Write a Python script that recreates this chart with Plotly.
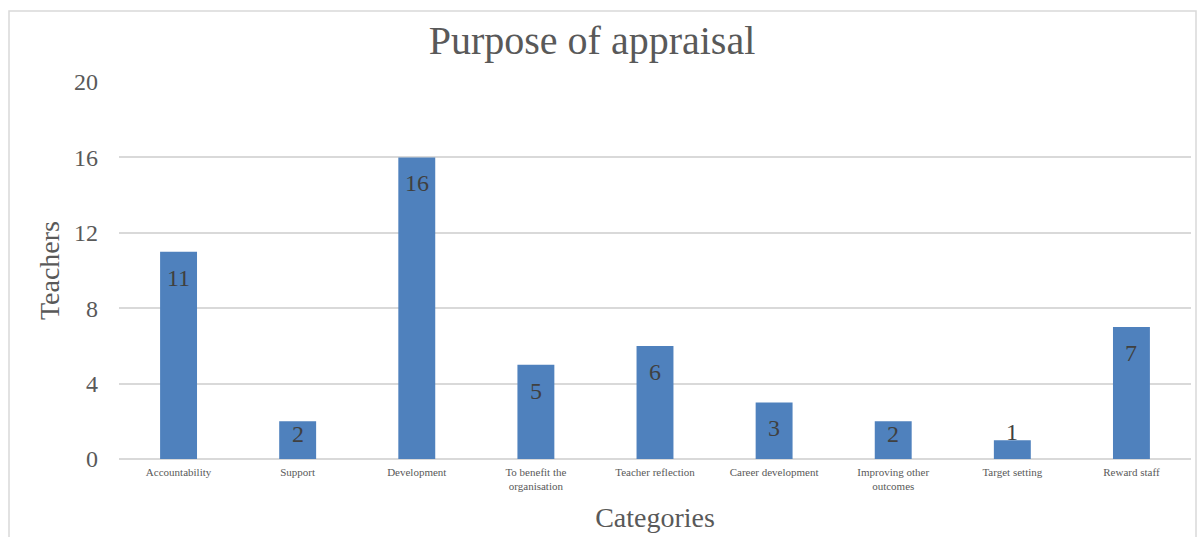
import plotly.graph_objects as go

categories = ["Accountability", "Support", "Development", "To benefit the<br>organisation",
              "Teacher reflection", "Career development", "Improving other<br>outcomes",
              "Target setting", "Reward staff"]
teachers = [11, 2, 16, 5, 6, 3, 2, 1, 7]
y_ticks = [0, 4, 8, 12, 16, 20]

FONT = "Liberation Serif"
L, R, T, B = 119, 7, 82, 78
W, H = 1198, 537
pw, ph = W - L - R, H - T - B
YMAX = 20

fig = go.Figure(go.Bar(
    x=categories, y=teachers,
    marker=dict(color="#4F81BD", line=dict(width=0)),
    hoverinfo="skip",
))


def label_shift(v):
    # Excel-style "inside end" label: move up when the bar is too short to hold it
    bar_px = v * ph / YMAX
    if bar_px >= 52:
        return -26
    if bar_px >= 30:
        return -13
    return 8


annotations = [
    dict(x=c, y=v, xref="x", yref="y", text=str(v), showarrow=False,
         yshift=label_shift(v), yanchor="middle",
         font=dict(family=FONT, size=24, color="#404040"))
    for c, v in zip(categories, teachers)
]

fig.update_layout(
    width=W, height=H,
    margin=dict(l=L, r=R, t=T, b=B),
    paper_bgcolor="white", plot_bgcolor="white",
    bargap=0.69,
    showlegend=False,
    title=dict(text="Purpose of appraisal", x=(592 - L) / pw, xanchor="center", y=1 - 40 / H,
               yanchor="middle", xref="paper",
               font=dict(family=FONT, size=40, color="#595959")),
    xaxis=dict(
        tickfont=dict(family=FONT, size=11, color="#595959"),
        title=dict(text="Categories", font=dict(family=FONT, size=28, color="#595959"), standoff=16),
        showline=False, ticks="", showgrid=False, ticklabelstandoff=5,
    ),
    yaxis=dict(
        range=[0, YMAX], tickvals=y_ticks,
        tickfont=dict(family=FONT, size=24, color="#595959"),
        title=dict(text="Teachers", font=dict(family=FONT, size=28, color="#595959"), standoff=6),
        showgrid=True, gridcolor="#D9D9D9", gridwidth=1.5,
        zeroline=True, zerolinecolor="#D9D9D9", zerolinewidth=2,
        showline=False, ticks="", ticklabelstandoff=20,
    ),
    annotations=annotations,
    shapes=[dict(type="rect", xref="paper", yref="paper",
                 x0=(9 - L) / pw, x1=(1196 - L) / pw,
                 y0=-0.3, y1=(H - B - 11) / ph,
                 line=dict(color="#D9D9D9", width=1.5), fillcolor="rgba(0,0,0,0)", layer="below")],
)

fig.write_html("out.html")
